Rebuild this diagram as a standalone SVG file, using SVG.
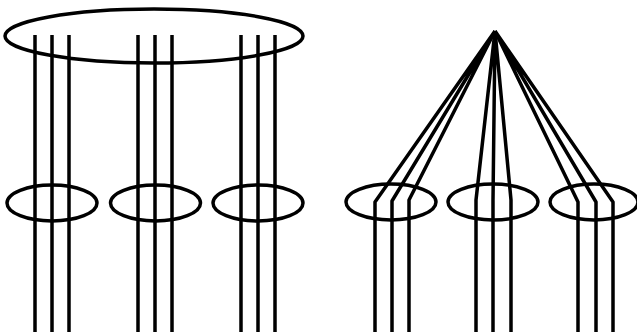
<svg xmlns="http://www.w3.org/2000/svg" width="637" height="336" viewBox="0 0 637 336">
<style>
.e{fill:none;stroke:#000;stroke-width:3.5}
.w{fill:none;stroke:#000;stroke-width:3.5;stroke-linejoin:round}
</style>
<rect width="637" height="336" fill="#fff"/>
<g id="top-ellipse"><ellipse class="e" cx="154" cy="36" rx="149" ry="27"/></g>
<g id="ring-l1"><ellipse class="e" cx="52" cy="203" rx="45" ry="18"/></g>
<g id="ring-l2"><ellipse class="e" cx="155.5" cy="203" rx="45" ry="18"/></g>
<g id="ring-l3"><ellipse class="e" cx="258" cy="203" rx="45" ry="18"/></g>
<g id="ring-r1"><ellipse class="e" cx="391" cy="202" rx="45" ry="18"/></g>
<g id="ring-r2"><ellipse class="e" cx="493" cy="202" rx="45" ry="18"/></g>
<g id="ring-r3"><ellipse class="e" cx="594" cy="202" rx="44" ry="18"/></g>
<g id="connectors">
<path class="w" d="M35 35V332M52 35V332M69 35V332M138 35V332M155 35V332M172 35V332M241 35V332M258 35V332M275 35V332"/>
<path class="w" d="M495 31L375 202V332M495 31L392 201V332M495 31L409 200V332"/>
<path class="w" d="M495 31L476 200V332M495 31L493 200V332M495 31L511 200V332"/>
<path class="w" d="M495 31L578 202V332M495 31L596 202V332M495 31L613 202V332"/>
</g>
</svg>
